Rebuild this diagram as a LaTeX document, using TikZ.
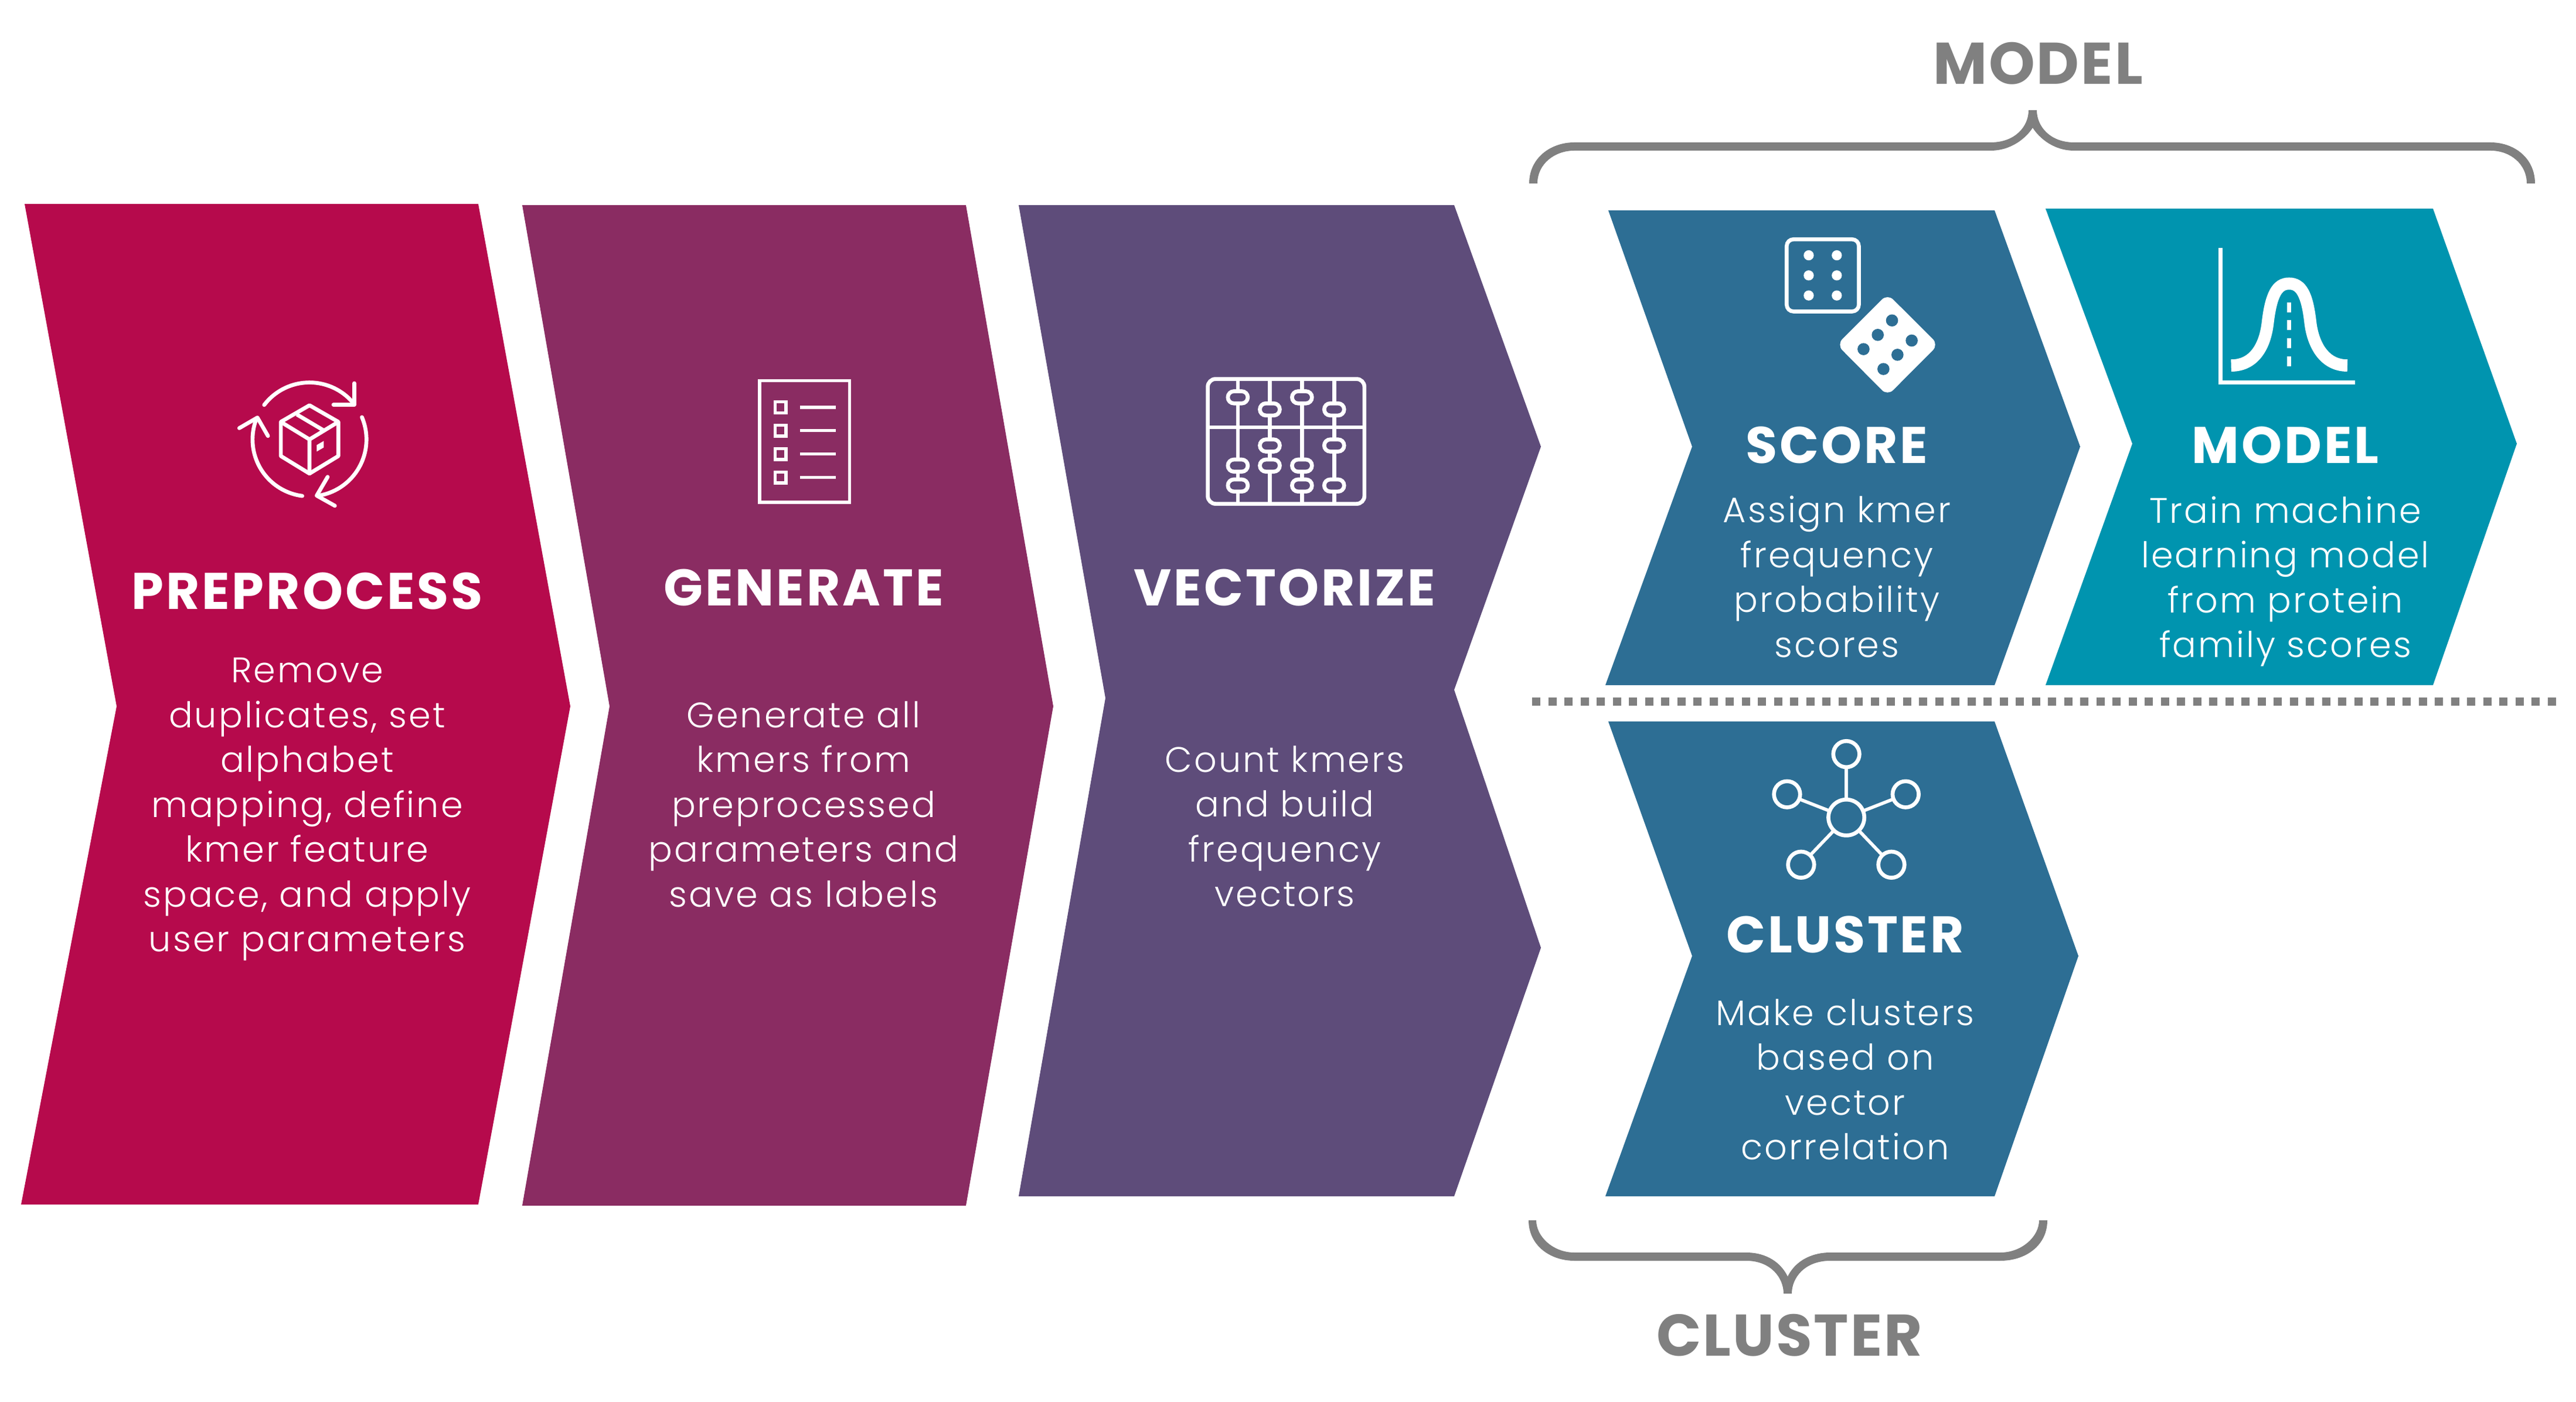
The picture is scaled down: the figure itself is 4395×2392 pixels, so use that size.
\documentclass[tikz,border=0pt]{standalone}
\usepackage{fontspec}
\setmainfont{Poppins}
\newfontfamily\titlefont[LetterSpace=4.5]{Poppins Bold}
\newfontfamily\bodyfont[LetterSpace=5]{Poppins Light}
\newfontfamily\groupfont[LetterSpace=3]{Poppins Bold}
\definecolor{cPre}{RGB}{182,10,76}
\definecolor{cGen}{RGB}{138,44,98}
\definecolor{cVec}{RGB}{94,76,122}
\definecolor{cSco}{RGB}{45,110,148}
\definecolor{cMod}{RGB}{0,148,175}
\definecolor{cGray}{RGB}{128,128,128}
\tikzset{
  zoomat/.style 2 args={shift={(#1,#2)},x=0.00333333cm,y=-0.00333333cm},
  icon/.style={draw=white,line width=1.9pt,line cap=butt},
  title/.style={text=white,inner sep=0pt,font={\titlefont\fontsize{25pt}{26pt}\selectfont}},
  bodytext/.style={text=white,inner sep=0pt,align=center,font={\bodyfont\fontsize{17.2pt}{21.76pt}\selectfont}},
  grouplabel/.style={text=cGray,inner sep=0pt,font={\groupfont\fontsize{28.5pt}{30pt}\selectfont}}
}
\begin{document}
\begin{tikzpicture}[x=0.01cm,y=-0.01cm]
\useasboundingbox (0,0) rectangle (4395,2392);
\fill[white] (0,0) rectangle (4395,2392);
% chevrons
\fill[cPre] (42,348)--(816,348)--(973,1205)--(816,2055)--(36,2055)--(199,1205)--cycle;
\fill[cGen] (891,350)--(1648,350)--(1797,1205)--(1648,2057)--(891,2057)--(1040,1205)--cycle;
\fill[cVec] (1738,350)--(2481,350)--(2629,762)--(2481,1177)--(2629,1617)--(2481,2041)--(1738,2041)--(1886,1191)--cycle;
\fill[cSco] (2744,359)--(3403,359)--(3549,762)--(3403,1169)--(2739,1169)--(2887,762)--cycle;
\fill[cMod] (3490,356)--(4151,356)--(4294,757)--(4151,1169)--(3490,1169)--(3638,757)--cycle;
\fill[cSco] (2744,1231)--(3403,1231)--(3546,1631)--(3403,2041)--(2739,2041)--(2887,1631)--cycle;
% dotted divider
\coordinate (divL) at (2614,1197);
\coordinate (divR) at (4361,1197);
\draw[cGray,line width=3.98pt,dash pattern=on 3.98pt off 3.84pt] (divL)--(divR);
% top brace
\fill[cGray] (2609,313) .. controls (2609,270) and (2645,243) .. (2686,243) -- (3396,243)
  .. controls (3439,243) and (3461,215) .. (3461,188) -- (3475,188)
  .. controls (3475,215) and (3497,243) .. (3539,243) -- (4249,243)
  .. controls (4290,243) and (4325,270) .. (4325,313) -- (4311,313)
  .. controls (4311,280) and (4283,257) .. (4249,257) -- (3539,257)
  .. controls (3503,257) and (3479,235) .. (3468,218)
  .. controls (3457,235) and (3432,257) .. (3396,257) -- (2686,257)
  .. controls (2652,257) and (2623,280) .. (2623,313) -- cycle;
% bottom brace
\fill[cGray] (2608,2082) .. controls (2608,2125) and (2645,2151) .. (2686,2151) -- (2979,2151)
  .. controls (3021,2151) and (3043,2180) .. (3043,2207) -- (3057,2207)
  .. controls (3057,2180) and (3079,2151) .. (3123,2151) -- (3413,2151)
  .. controls (3456,2151) and (3493,2125) .. (3493,2082) -- (3479,2082)
  .. controls (3479,2110) and (3449,2137) .. (3413,2137) -- (3123,2137)
  .. controls (3086,2137) and (3061,2155) .. (3050,2178)
  .. controls (3039,2155) and (3015,2137) .. (2979,2137) -- (2686,2137)
  .. controls (2650,2137) and (2621,2110) .. (2621,2082) -- cycle;
% preprocess icon
\begin{scope}[zoomat={350}{600}]
  \draw[icon,line cap=round] plot[domain=-142.7:-40.8,samples=40] ({535+292*cos(\x)},{450+292*sin(\x)});
  \draw[icon,line cap=round] plot[domain=-23:79,samples=40] ({535+292*cos(\x)},{450+292*sin(\x)});
  \draw[icon,line cap=round] plot[domain=97.3:202,samples=40] ({535+292*cos(\x)},{450+292*sin(\x)});
  \draw[icon,line cap=round,line join=round] (765,162)--(765,272)--(658,272);
  \draw[icon,line cap=round,line join=round] (628,642)--(572,738)--(665,790);
  \draw[icon,line cap=round,line join=round] (175,392)--(268,338)--(322,432);
  \draw[icon,line join=round] (535,275)--(683,360)--(683,535)--(535,625)--(388,535)--(388,360)--cycle;
  \draw[icon,line join=round] (388,360)--(535,450)--(683,360) (535,450)--(535,625) (470,322)--(615,408);
  \draw[icon,line width=1.1pt,fill=white] (578,482)--(602,468)--(602,488)--(578,502)--cycle;
\end{scope}
% generate icon
\begin{scope}[zoomat={1250}{620}]
  \draw[icon,line width=1.5pt] (138,88) rectangle (600,712);
  \foreach \yy in {225,345,465,585}{
    \draw[icon,line width=1.5pt] (217,\yy-28) rectangle (273,\yy+28);
    \draw[icon,line width=1.5pt] (345,\yy)--(528,\yy);
  }
\end{scope}
% vectorize icon
\begin{scope}[zoomat={2040}{620}]
  \draw[icon,rounded corners=3.8pt] (62,80) rectangle (865,720);
  \draw[icon] (62,328)--(865,328);
  \foreach \xx in {216,380,545,710} \draw[icon] (\xx,80)--(\xx,720);
  \foreach \xx/\yy in {216/174,216/524,216/626,380/236,380/421,380/524,545/174,545/524,545/626,710/236,710/421,710/626}
    \draw[icon,fill=cVec,rounded corners=2.9pt] (\xx-51,\yy-31) rectangle (\xx+51,\yy+31);
\end{scope}
% score icon
\begin{scope}[zoomat={3030}{390}]
  \draw[icon,rounded corners=3.3pt] (55,55) rectangle (425,425);
  \foreach \xx in {168,312} \foreach \yy in {137,240,343} \fill[white] (\xx,\yy) circle (26);
  \fill[white,rounded corners=3.8pt] (572,335)--(833,595)--(572,857)--(312,595)--cycle;
  \foreach \xx/\yy in {595/471,522/545,449/618,696/574,623/647,551/720} \fill[cSco] (\xx,\yy) circle (31);
\end{scope}
% model icon
\begin{scope}[zoomat={3770}{400}]
  \draw[icon] (55,70)--(55,759)--(745,759);
  \draw[icon,line width=5.9pt] (110,672) .. controls (230,672) and (285,570) .. (298,450)
    .. controls (315,310) and (345,252) .. (407,252)
    .. controls (470,252) and (500,310) .. (516,450)
    .. controls (530,570) and (590,672) .. (706,672);
  \foreach \yy in {348,438,531,624} \fill[white] (397,\yy) rectangle (419,\yy+52);
\end{scope}
% cluster icon
\begin{scope}[zoomat={3010}{1250}]
  \foreach \xx/\yy in {421/110,117/316,725/316,189/677,652/677} {
    \draw[icon,line width=1.6pt] (421,435)--(\xx,\yy);
    \draw[icon,fill=cSco] (\xx,\yy) circle (67);
  }
  \draw[icon,fill=cSco] (421,435) circle (92);
\end{scope}
% titles
\node[title] (tPre) at (524,1009) {PREPROCESS};
\node[title] (tGen) at (1371,1003) {GENERATE};
\node[title] (tVec) at (2192,1003) {VECTORIZE};
\node[title] (tSco) at (3134,760) {SCORE};
\node[title] (tMod) at (3899,760) {MODEL};
\node[title] (tClu) at (3148,1595) {CLUSTER};
% bodies
\node[bodytext] (bPre) at (524,1381) {Remove\\duplicates, set\\alphabet\\mapping, define\\kmer feature\\space, and apply\\user parameters};
\node[bodytext] (bGen) at (1371,1372) {Generate all\\kmers from\\preprocessed\\parameters and\\save as labels};
\node[bodytext] (bVec) at (2192,1410) {Count kmers\\and build\\frequency\\vectors};
\node[bodytext] (bSco) at (3134,984) {Assign kmer\\frequency\\probability\\scores};
\node[bodytext] (bMod) at (3899,992) {Train machine\\learning model\\from protein\\family scores};
\node[bodytext] (bClu) at (3148,1842) {Make clusters\\based on\\vector\\correlation};
% group labels
\node[grouplabel] (gMod) at (3477,108) {MODEL};
\node[grouplabel] (gClu) at (3053,2278) {CLUSTER};
\end{tikzpicture}
\end{document}
